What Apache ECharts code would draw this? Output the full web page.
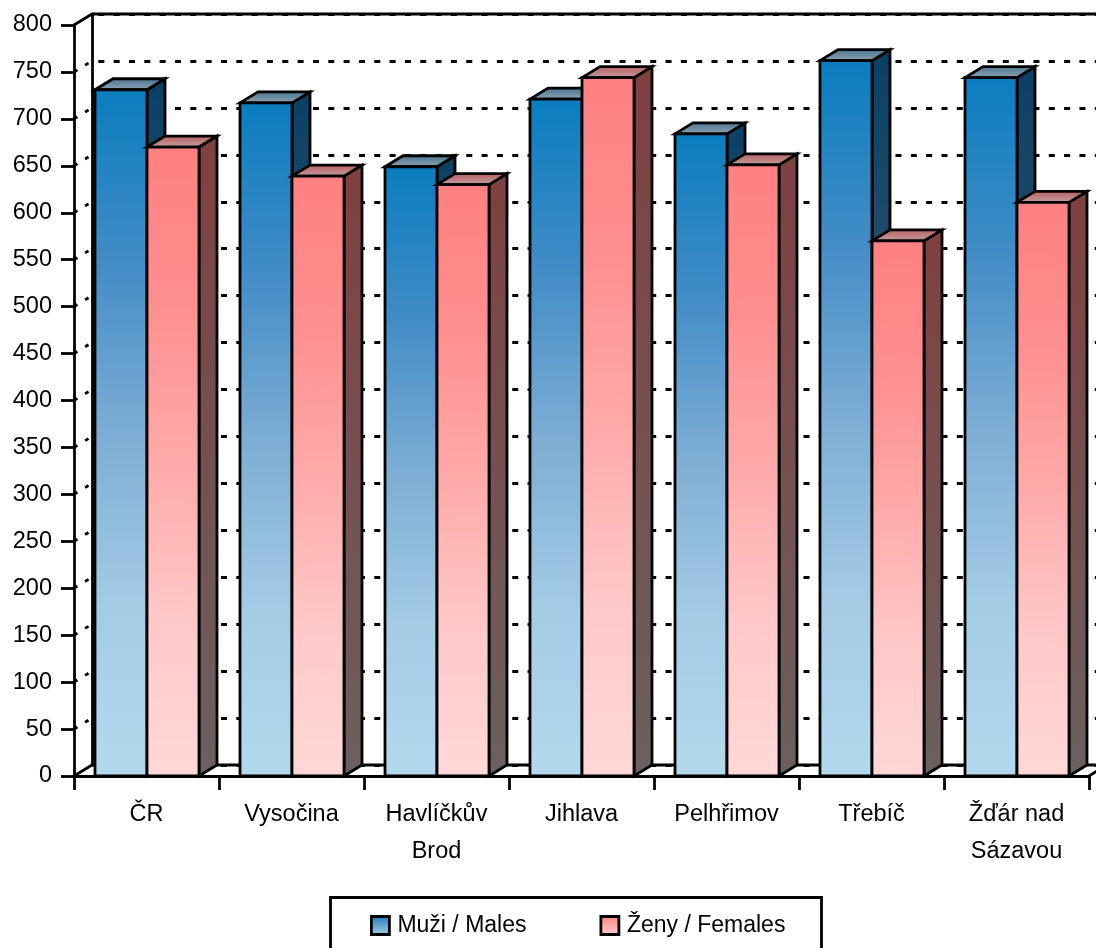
<!DOCTYPE html>
<html><head><meta charset="utf-8">
<style>html,body{margin:0;padding:0;background:#fff;overflow:hidden}#c{width:1096px;height:948px}</style>
<script src="https://cdn.jsdelivr.net/npm/echarts@6/dist/echarts.min.js"></script>
</head><body><div id="c"></div>
<script>
var categories = ['ČR','Vysočina','Havlíčkův\nBrod','Jihlava','Pelhřimov','Třebíč','Žďár nad\nSázavou'];
var males = [731,717,649,721,684,762,744];
var females = [670,639,630,744,651,570,611];
var yTicks = [0,50,100,150,200,250,300,350,400,450,500,550,600,650,700,750,800];
var maleName = 'Muži / Males', femaleName = 'Ženy / Females';

var FONT = '"Liberation Sans",Arial,sans-serif';
var FS = 23.5, LW = 2.8;
var DX = 18, DY = -11, BAR = 52;
function grad(stops){return new echarts.graphic.LinearGradient(0,0,0,1,stops.map(function(c,i){return {offset:i/(stops.length-1),color:c};}));}
var maleC = {front:['#0a7dbf','#418cc6','#7dadd4','#a3cbe4','#b3d9ee'],side:['#0a4065','#5a6c77'],top:['#44708f','#94a8b6']};
var femaleC = {front:['#ff8080','#ff8f8f','#ffaaaa','#ffc8c8','#ffd8d8'],side:['#804040','#6b6060'],top:['#b85a5e','#c2a3a3']};
var stroke = {stroke:'#000',lineWidth:LW,lineJoin:'miter'};
function face(points,c){return {type:'polygon',shape:{points:points},style:Object.assign({fill:grad(c)},stroke)};}
function bars(sign,c){
  return function(params,api){
    var i = api.value(0), top = api.coord([i,api.value(1)]), base = api.coord([i,0]);
    var cx = base[0] + 0.5;
    var x0 = sign<0 ? cx-BAR : cx, x1 = x0+BAR, yT = top[1], yB = base[1];
    return {type:'group',children:[
      face([[x1,yB],[x1+DX,yB+DY],[x1+DX,yT+DY],[x1,yT]],c.side),
      face([[x0,yT],[x0+DX,yT+DY],[x1+DX,yT+DY],[x1,yT]],c.top),
      face([[x0,yT],[x1,yT],[x1,yB],[x0,yB]],c.front)
    ]};
  };
}
function line(a,b,dash){return {type:'line',shape:{x1:a[0],y1:a[1],x2:b[0],y2:b[1]},style:{stroke:'#000',lineWidth:LW,lineDash:dash||null}};}

var chart = echarts.init(document.getElementById('c'),null,{renderer:'canvas'});
chart.setOption({
  animation:false,
  backgroundColor:'#fff',
  textStyle:{fontFamily:FONT},
  grid:[
    {left:74,top:25,width:1015,height:751},
    {left:92,top:14,width:1015,height:751}
  ],
  xAxis:[
    {type:'category',gridIndex:0,data:categories,boundaryGap:true,
     axisLine:{show:true,lineStyle:{color:'#000',width:LW}},
     axisTick:{show:true,alignWithLabel:false,length:14,lineStyle:{color:'#000',width:LW}},
     axisLabel:{interval:0,color:'#000',fontSize:FS,fontFamily:FONT,margin:20,lineHeight:37},
     splitLine:{show:false}},
    {type:'value',gridIndex:1,min:0,max:1,show:false,splitLine:{show:false}}
  ],
  yAxis:[
    {type:'value',gridIndex:0,min:0,max:800,interval:50,
     axisLine:{show:true,onZero:false,lineStyle:{color:'#000',width:LW}},
     axisTick:{show:true,length:13,lineStyle:{color:'#000',width:LW}},
     axisLabel:{color:'#000',fontSize:FS,fontFamily:FONT,margin:22},
     splitLine:{show:false}},
    {type:'value',gridIndex:1,min:0,max:800,interval:50,
     axisLine:{show:true,onZero:false,lineStyle:{color:'#000',width:LW}},
     axisTick:{show:false},axisLabel:{show:false},
     splitLine:{show:true,lineStyle:{color:'#000',width:3,type:[6,9.33],dashOffset:9}}}
  ],
  legend:{
    left:370,top:914,padding:0,itemWidth:18,itemHeight:18,itemGap:73,selectedMode:false,
    textStyle:{color:'#000',fontSize:23,fontFamily:FONT,padding:[0,0,0,3]},
    data:[
      {name:maleName,icon:'rect',itemStyle:{color:grad(['#1f78b8','#a8d2ea']),borderColor:'#000',borderWidth:LW}},
      {name:femaleName,icon:'rect',itemStyle:{color:grad(['#ff8080','#ffd0d0']),borderColor:'#000',borderWidth:LW}}
    ]
  },
  graphic:[{type:'rect',left:328,top:895,shape:{width:491,height:70},style:{fill:'none',stroke:'#000',lineWidth:LW},z:1}],
  series:[
    {type:'custom',name:'walls',xAxisIndex:0,yAxisIndex:0,z:1,clip:false,silent:true,
     data:yTicks.map(function(v){return [v];}),encode:{y:0},
     renderItem:function(params,api){
       var v = api.value(0), y = api.coord([0,v])[1], x = params.coordSys.x, solid = (v===0||v===800);
       var kids = [line([x,y],[x+DX,y+DY],solid?null:[4,9])];
       if(solid) kids.push(line([x+DX,y+DY],[x+DX+params.coordSys.width,y+DY]));
       if(v===0) kids.push(line([x+params.coordSys.width,y],[x+params.coordSys.width+DX,y+DY]));
       return {type:'group',children:kids};
     }},
    {type:'custom',name:maleName,xAxisIndex:0,yAxisIndex:0,z:3,clip:false,
     data:males.map(function(v,i){return [i,v];}),encode:{x:0,y:1},renderItem:bars(-1,maleC)},
    {type:'custom',name:femaleName,xAxisIndex:0,yAxisIndex:0,z:4,clip:false,
     data:females.map(function(v,i){return [i,v];}),encode:{x:0,y:1},renderItem:bars(1,femaleC)}
  ]
});
</script></body></html>
